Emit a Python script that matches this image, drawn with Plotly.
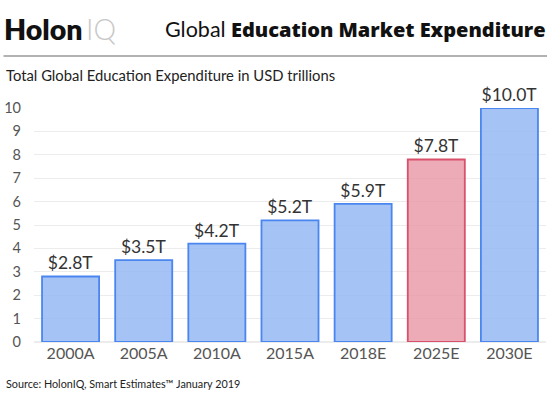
import plotly.graph_objects as go

categories = ["2000A", "2005A", "2010A", "2015A", "2018E", "2025E", "2030E"]
values = [2.8, 3.5, 4.2, 5.2, 5.9, 7.8, 10.0]
labels = ["$2.8T", "$3.5T", "$4.2T", "$5.2T", "$5.9T", "$7.8T", "$10.0T"]
highlight = ["2025E"]

W, H = 551, 397
L, R, T, B = 33.5, 5, 108, 55
FONT = "Lato, Open Sans, sans-serif"

fill = ["rgba(232,150,165,0.8)" if c in highlight else "rgba(150,184,245,0.85)" for c in categories]
line = ["#d9506a" if c in highlight else "#4a86f0" for c in categories]

def px(x):  # pixel x -> paper
    return (x - L) / (W - L - R)

def py(y):  # pixel y -> paper
    return (H - B - y) / (H - T - B)

fig = go.Figure(go.Bar(
    x=categories, y=values, text=labels, textposition="outside",
    textfont=dict(size=17.5, color="#333", family=FONT),
    marker=dict(color=fill, line=dict(color=line, width=1.8)),
    cliponaxis=False,
))

fig.update_layout(
    width=W, height=H,
    margin=dict(l=L, r=R, t=T, b=B, autoexpand=False),
    plot_bgcolor="white", paper_bgcolor="white",
    bargap=0.22, showlegend=False,
    font=dict(family=FONT, color="#555"),
    xaxis=dict(showgrid=False, showline=False, tickfont=dict(size=16, color="#555"), ticks="",
               automargin=False),
    yaxis=dict(range=[0, 10], dtick=1, showgrid=True, gridcolor="#ececec", gridwidth=1,
               zeroline=True, zerolinecolor="#ececec", tickfont=dict(size=14.5, color="#555"),
               ticklabelstandoff=12, automargin=False),
    annotations=[
        dict(text="Holon", x=px(1), y=py(29), xref="paper", yref="paper",
             xanchor="left", yanchor="middle", showarrow=False,
             font=dict(size=28.5, color="#111", family=FONT, weight=800)),
        dict(text="IQ", x=px(84), y=py(29), xref="paper", yref="paper",
             xanchor="left", yanchor="middle", showarrow=False,
             font=dict(size=28.5, color="#c8c8c8", family=FONT, weight=300)),
        dict(text="Global", x=px(163), y=py(29),
             xref="paper", yref="paper", xanchor="left", yanchor="middle", showarrow=False,
             font=dict(size=21.5, color="#111", family=FONT, weight=400)),
        dict(text="Education Market Expenditure", x=px(229), y=py(29),
             xref="paper", yref="paper", xanchor="left", yanchor="middle", showarrow=False,
             font=dict(size=20, color="#111", family="Open Sans, sans-serif", weight=800)),
        dict(text="Total Global Education Expenditure in USD trillions", x=px(3), y=py(75),
             xref="paper", yref="paper", xanchor="left", yanchor="middle", showarrow=False,
             font=dict(size=14.8, color="#222", family=FONT)),
        dict(text="Source: HolonIQ, Smart Estimates™ January 2019", x=px(3), y=py(383),
             xref="paper", yref="paper", xanchor="left", yanchor="middle", showarrow=False,
             font=dict(size=10.8, color="#222", family=FONT)),
    ],
    shapes=[
        dict(type="line", xref="paper", yref="paper", x0=px(3), x1=px(547), y0=py(56), y1=py(56),
             line=dict(color="#999", width=1.5)),
    ],
)

# remove the default 8px page margin so the figure fills the window exactly
fig.write_html("out.html", config={"displayModeBar": False},
               post_script="document.body.style.margin='0';")
